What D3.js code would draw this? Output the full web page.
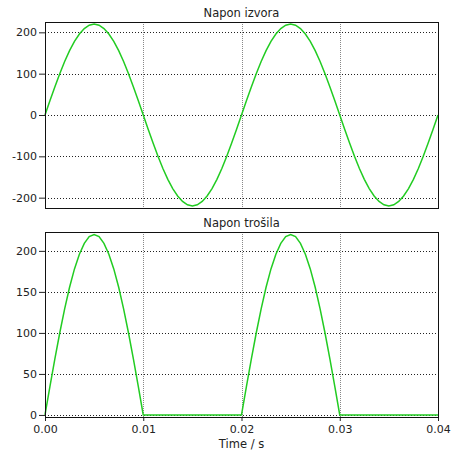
<!DOCTYPE html>
<html><head><meta charset="utf-8">
<script src="https://cdn.jsdelivr.net/npm/d3@7"></script>
<style>body{margin:0;background:#fff}svg{display:block}text{font-family:"DejaVu Sans",sans-serif;fill:#222}</style>
</head><body><svg id="c" width="451" height="450"></svg>
<script>
const time = [0,0.0005,0.001,0.0015,0.002,0.0025,0.003,0.0035,0.004,0.0045,0.005,0.0055,0.006,0.0065,0.007,0.0075,0.008,0.0085,0.009,0.0095,
0.01,0.0105,0.011,0.0115,0.012,0.0125,0.013,0.0135,0.014,0.0145,0.015,0.0155,0.016,0.0165,0.017,0.0175,0.018,0.0185,0.019,0.0195,
0.02,0.0205,0.021,0.0215,0.022,0.0225,0.023,0.0235,0.024,0.0245,0.025,0.0255,0.026,0.0265,0.027,0.0275,0.028,0.0285,0.029,0.0295,
0.03,0.0305,0.031,0.0315,0.032,0.0325,0.033,0.0335,0.034,0.0345,0.035,0.0355,0.036,0.0365,0.037,0.0375,0.038,0.0385,0.039,0.0395,0.04];
const sourceVoltage = [0,34.4,68,99.9,129.3,155.6,178,196,209.2,217.3,220,217.3,209.2,196,178,155.6,129.3,99.9,68,34.4,
0,-34.4,-68,-99.9,-129.3,-155.6,-178,-196,-209.2,-217.3,-220,-217.3,-209.2,-196,-178,-155.6,-129.3,-99.9,-68,-34.4,
0,34.4,68,99.9,129.3,155.6,178,196,209.2,217.3,220,217.3,209.2,196,178,155.6,129.3,99.9,68,34.4,
0,-34.4,-68,-99.9,-129.3,-155.6,-178,-196,-209.2,-217.3,-220,-217.3,-209.2,-196,-178,-155.6,-129.3,-99.9,-68,-34.4,0];
const loadVoltage = [0,34.4,68,99.9,129.3,155.6,178,196,209.2,217.3,220,217.3,209.2,196,178,155.6,129.3,99.9,68,34.4,
0,0,0,0,0,0,0,0,0,0,0,0,0,0,0,0,0,0,0,0,
0,34.4,68,99.9,129.3,155.6,178,196,209.2,217.3,220,217.3,209.2,196,178,155.6,129.3,99.9,68,34.4,
0,0,0,0,0,0,0,0,0,0,0,0,0,0,0,0,0,0,0,0,0];
const xTicks = [0,0.01,0.02,0.03,0.04];
const topYTicks = [-200,-100,0,100,200];
const bottomYTicks = [0,50,100,150,200];
const titles = ["Napon izvora","Napon trošila"];
const xLabel = "Time / s";

const svg = d3.select("#c");
const L = 45, R = 438;
const x = d3.scaleLinear().domain([0,0.04]).range([L,R]);

function panel(top, bottom, ydom, yTicks, values, title, showX){
  const y = d3.scaleLinear().domain(ydom).range([bottom, top]);
  const g = svg.append("g");
  g.selectAll(".vg").data(xTicks.slice(1,-1)).enter().append("line")
    .attr("x1",d=>Math.round(x(d))+0.5).attr("x2",d=>Math.round(x(d))+0.5)
    .attr("y1",top).attr("y2",bottom)
    .attr("stroke","#888").attr("stroke-dasharray","1,1");
  g.selectAll(".hg").data(yTicks).enter().append("line")
    .attr("x1",L).attr("x2",R)
    .attr("y1",d=>Math.round(y(d))+0.5).attr("y2",d=>Math.round(y(d))+0.5)
    .attr("stroke","#222").attr("stroke-dasharray","1,2");
  g.append("path").datum(values.map((v,i)=>[time[i],v]))
    .attr("fill","none").attr("stroke","#22cc22").attr("stroke-width",1.5)
    .attr("d", d3.line().x(d=>x(d[0])).y(d=>y(d[1])));
  const ya = g.append("g").attr("transform",`translate(${L},0)`)
    .call(d3.axisLeft(y).tickValues(yTicks).tickSize(6).tickPadding(2).tickFormat(d=>String(d)));
  ya.select(".domain").remove();
  ya.selectAll("text").style("font-size","11px").attr("fill","#222");
  ya.selectAll("line").attr("stroke","#222");
  const xa = g.append("g").attr("transform",`translate(0,${bottom})`)
    .call(d3.axisBottom(x).tickValues(xTicks).tickSize(showX?4:0).tickPadding(4).tickFormat(showX?d3.format(".2f"):""));
  xa.select(".domain").remove();
  xa.selectAll("text").style("font-size","11px").attr("fill","#222");
  xa.selectAll("line").attr("stroke","#222");
  g.append("rect").attr("x",L+0.5).attr("y",top+0.5).attr("width",R-L).attr("height",bottom-top)
    .attr("fill","none").attr("stroke","#111").attr("stroke-width",1);
  g.append("text").attr("x",(L+R)/2).attr("y",top-5).attr("text-anchor","middle")
    .style("font-size","11.5px").text(title);
}
panel(22, 208, [-225,225], topYTicks, sourceVoltage, titles[0], false);
panel(232, 417, [-2.5,223], bottomYTicks, loadVoltage, titles[1], true);
svg.append("text").attr("x",(L+R)/2).attr("y",448).attr("text-anchor","middle")
  .style("font-size","11.5px").text(xLabel);
</script></body></html>
